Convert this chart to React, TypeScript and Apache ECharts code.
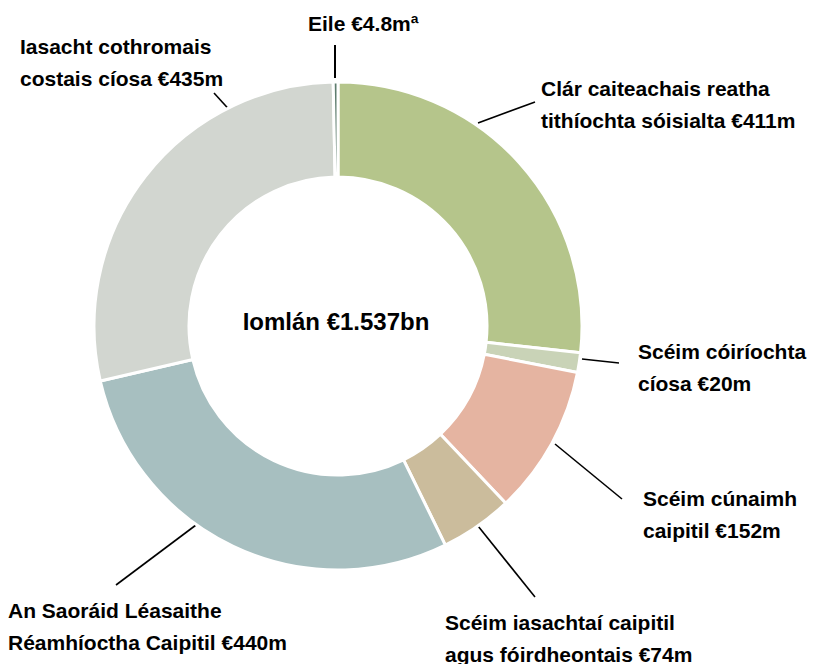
import React, { useEffect, useRef } from "react";
import * as echarts from "echarts";

const names = [
  "Clár caiteachais reatha tithíochta sóisialta",
  "Scéim cóiríochta cíosa",
  "Scéim cúnaimh caipitil",
  "Scéim iasachtaí caipitil agus fóirdheontais",
  "An Saoráid Léasaithe Réamhíoctha Caipitil",
  "Iasacht cothromais costais cíosa",
  "Eile",
];
const values = [411, 20, 152, 74, 440, 435, 4.8];
const colors = ["#b5c58b", "#c9d3b7", "#e5b4a1", "#cbbc9c", "#a7bfc0", "#d2d6d0", "#5e7d6e"];
const labelTexts = [
  "Clár caiteachais reatha\ntithíochta sóisialta €411m",
  "Scéim cóiríochta\ncíosa €20m",
  "Scéim cúnaimh\ncaipitil €152m",
  "Scéim iasachtaí caipitil\nagus fóirdheontais €74m",
  "An Saoráid Léasaithe\nRéamhíoctha Caipitil €440m",
  "Iasacht cothromais\ncostais cíosa €435m",
  "Eile €4.8mª",
];
const totalText = "Iomlán €1.537bn";

// annotation placement (text anchor & leader line)
const labelPos = [
  { x: 541, y: 72 },
  { x: 638, y: 335 },
  { x: 643, y: 482 },
  { x: 445, y: 606 },
  { x: 8, y: 594 },
  { x: 20, y: 30 },
  { x: 308, y: 7 },
];
const leaders = [
  [[478, 123], [535, 102]],
  [[582, 359], [619, 363]],
  [[555, 444], [622, 499]],
  [[478, 526], [535, 597]],
  [[196, 525], [116, 585]],
  [[245, 127], [214, 93]],
  [[335, 45], [335, 78]],
];

const FONT = '"Liberation Sans", Arial, sans-serif';

export default function App() {
  const ref = useRef<HTMLDivElement>(null);
  useEffect(() => {
    if (!ref.current) return;
    const chart = echarts.init(ref.current, undefined, { renderer: "svg" });
    const graphic: any[] = [];
    labelTexts.forEach((t, i) => {
      graphic.push({
        type: "text",
        x: labelPos[i].x,
        y: labelPos[i].y,
        style: {
          text: t,
          fill: "#000",
          font: `bold 21px ${FONT}`,
          lineHeight: 32,
          align: "left",
          verticalAlign: "top",
        },
      });
      const l = leaders[i];
      graphic.push({
        type: "line",
        shape: { x1: l[0][0], y1: l[0][1], x2: l[1][0], y2: l[1][1] },
        style: { stroke: "#000", lineWidth: i === 6 ? 2 : 1.6 },
      });
    });
    graphic.push({
      type: "text",
      x: 336,
      y: 321,
      style: {
        text: totalText,
        fill: "#000",
        font: `bold 24px ${FONT}`,
        align: "center",
        verticalAlign: "middle",
      },
    });
    chart.setOption({
      animation: false,
      backgroundColor: "#ffffff",
      tooltip: { show: false },
      legend: { show: false },
      series: [
        {
          type: "pie",
          center: [338, 326],
          radius: [149, 244],
          startAngle: 90,
          clockwise: true,
          avoidLabelOverlap: false,
          label: { show: false },
          labelLine: { show: false },
          emphasis: { disabled: true },
          itemStyle: { borderColor: "#ffffff", borderWidth: 3 },
          data: names.map((n, i) => ({
            name: n,
            value: values[i],
            itemStyle: { color: colors[i] },
          })),
        },
      ],
      graphic,
    });
    return () => chart.dispose();
  }, []);
  return (
    <div
      ref={ref}
      style={{ position: "absolute", left: 0, top: 0, width: 816, height: 664 }}
    />
  );
}
